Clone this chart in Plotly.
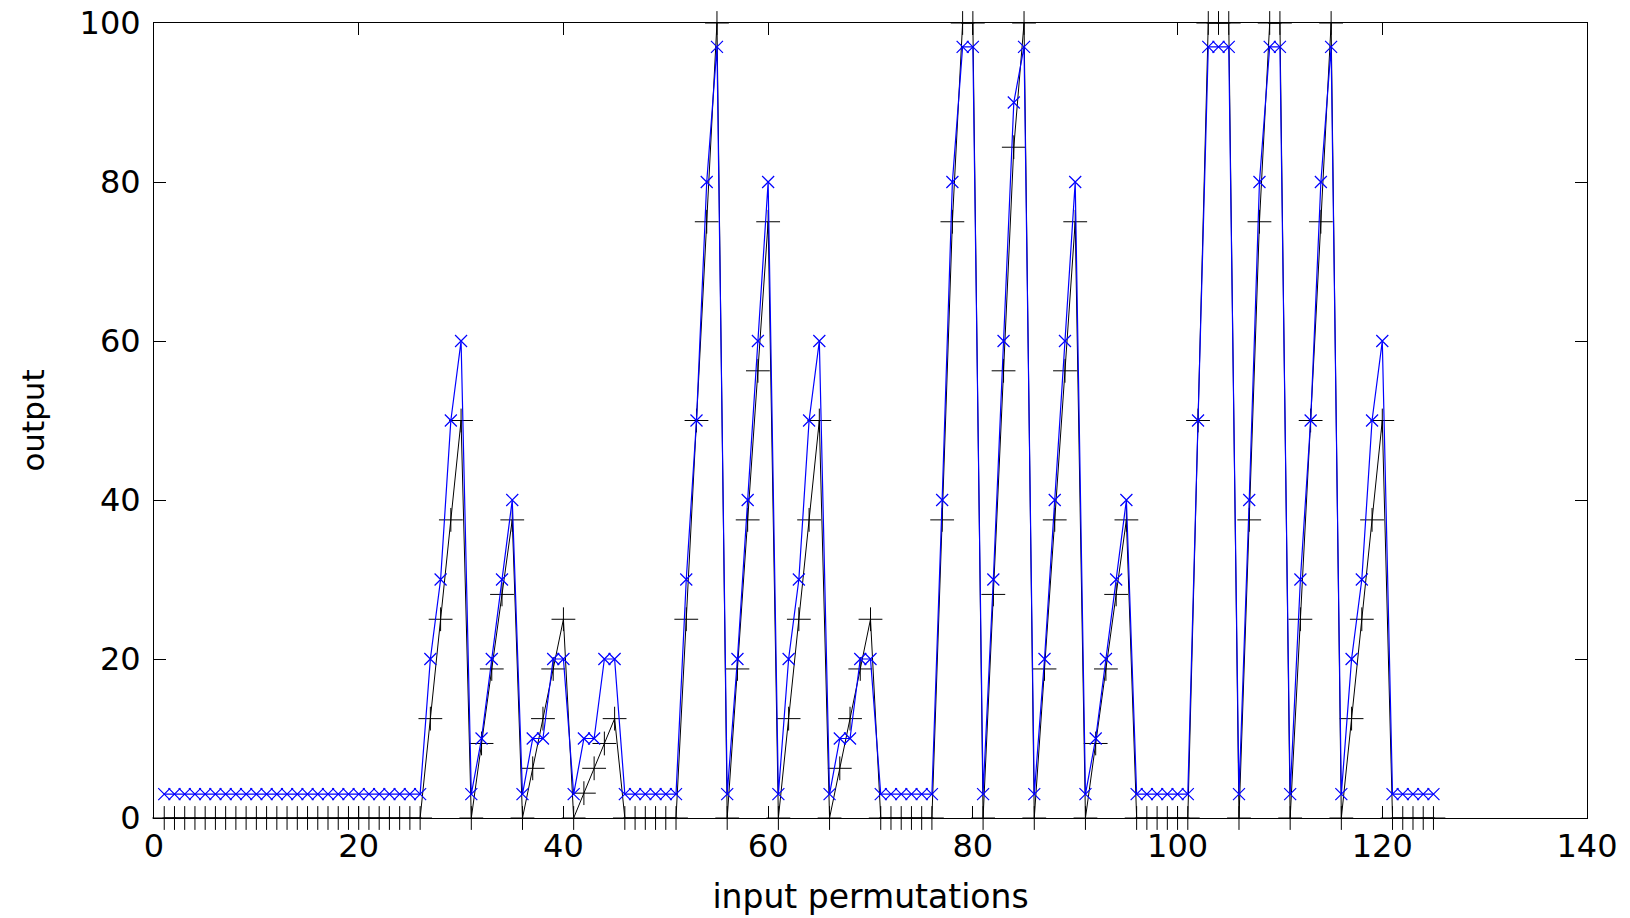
import plotly.graph_objects as go

# input permutation index (1..125)
perm_index = list(range(1, 126))

# blue series (x markers)
blue_values = (
    [3] * 25 +
    [3, 20, 30, 50, 60] +
    [3, 10, 20, 30, 40] +
    [3, 10, 10, 20, 20] +
    [3, 10, 10, 20, 20] +
    [3, 3, 3, 3, 3] +
    [3, 30, 50, 80, 97] +
    [3, 20, 40, 60, 80] +
    [3, 20, 30, 50, 60] +
    [3, 10, 10, 20, 20] +
    [3, 3, 3, 3, 3] +
    [3, 40, 80, 97, 97] +
    [3, 30, 60, 90, 97] +
    [3, 20, 40, 60, 80] +
    [3, 10, 20, 30, 40] +
    [3, 3, 3, 3, 3] +
    [3, 50, 97, 97, 97] +
    [3, 40, 80, 97, 97] +
    [3, 30, 50, 80, 97] +
    [3, 20, 30, 50, 60] +
    [3, 3, 3, 3, 3]
)

# black series (+ markers)
black_values = (
    [0] * 25 +
    [0, 12.5, 25, 37.5, 50] +
    [0, 9.375, 18.75, 28.125, 37.5] +
    [0, 6.25, 12.5, 18.75, 25] +
    [0, 3.125, 6.25, 9.375, 12.5] +
    [0, 0, 0, 0, 0] +
    [0, 25, 50, 75, 100] +
    [0, 18.75, 37.5, 56.25, 75] +
    [0, 12.5, 25, 37.5, 50] +
    [0, 6.25, 12.5, 18.75, 25] +
    [0, 0, 0, 0, 0] +
    [0, 37.5, 75, 100, 100] +
    [0, 28.125, 56.25, 84.375, 100] +
    [0, 18.75, 37.5, 56.25, 75] +
    [0, 9.375, 18.75, 28.125, 37.5] +
    [0, 0, 0, 0, 0] +
    [0, 50, 100, 100, 100] +
    [0, 37.5, 75, 100, 100] +
    [0, 25, 50, 75, 100] +
    [0, 12.5, 25, 37.5, 50] +
    [0, 0, 0, 0, 0]
)

x_ticks = [0, 20, 40, 60, 80, 100, 120, 140]
y_ticks = [0, 20, 40, 60, 80, 100]

FONT = "DejaVu Sans"

fig = go.Figure()
fig.add_trace(go.Scatter(
    x=perm_index, y=black_values, mode="lines+markers",
    line=dict(color="black", width=1),
    marker=dict(symbol="cross-thin", size=17, line=dict(color="black", width=1), color="black"),
    cliponaxis=False, showlegend=False,
))
fig.add_trace(go.Scatter(
    x=perm_index, y=blue_values, mode="lines+markers",
    line=dict(color="#0000FF", width=1.2),
    marker=dict(symbol="x-thin", size=12, line=dict(color="#0000FF", width=1.2), color="#0000FF"),
    cliponaxis=False, showlegend=False,
))

axis_common = dict(
    showgrid=False, zeroline=False, showline=True, linecolor="black", linewidth=1,
    mirror="ticks", ticks="inside", ticklen=12, tickcolor="black", tickwidth=1,
    tickfont=dict(family=FONT, size=32, color="black"), automargin=False,
    ticklabeloverflow="allow",
)

fig.update_layout(
    width=1630, height=918,
    margin=dict(l=154, r=43, t=23, b=100),
    paper_bgcolor="white", plot_bgcolor="white",
    font=dict(family=FONT, color="black"),
    xaxis=dict(range=[0, 140], tickvals=x_ticks, **axis_common,
               title=dict(text="input permutations", font=dict(family=FONT, size=33), standoff=20)),
    yaxis=dict(range=[0, 100], tickvals=y_ticks, ticklabelstandoff=6, **axis_common,
               title=dict(text="output", font=dict(family=FONT, size=31), standoff=25)),
)

fig.write_html(
    "out.html",
    config={"displayModeBar": False},
    post_script="document.body.style.margin='0';document.body.style.overflow='hidden';",
)
